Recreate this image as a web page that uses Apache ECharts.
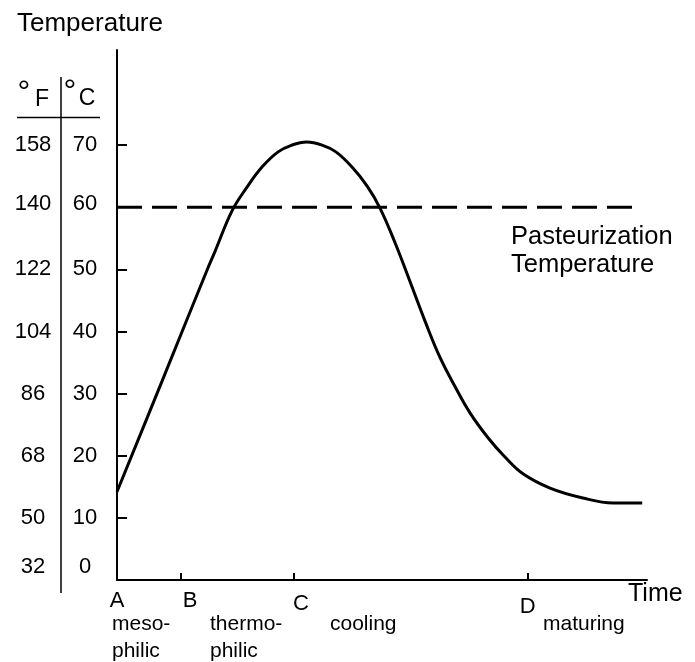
<!DOCTYPE html>
<html>
<head>
    <meta charset="utf-8">
    <script src="https://cdn.jsdelivr.net/npm/echarts@6/dist/echarts.min.js"></script>
</head>
<style type="text/css">
    html, body { margin: 0; padding: 0; background: #fff; }
</style>
<body>
<div style="width: 695px;height: 662px;" id="chart"></div>
<script>

// temperature scale, two columns
let tempC = [0, 10, 20, 30, 40, 50, 60, 70];
let tempF = [32, 50, 68, 86, 104, 122, 140, 158];

// stages on the time axis
let stages = ['A', 'B', 'C', 'D'];
let stageTicks = [12.1, 33.4, 77.5];
let stageLabelPos = [0, 13.8, 34.7, 77.5];

// compost temperature curve (time in arbitrary units, temp in °C)
let time = [0, 8.5, 17.0, 18.5, 21.7, 24.5, 27.4, 30.4, 33.0, 35.8, 38.7, 41.3, 44.3, 47.2,
    49.6, 52.5, 55.3, 58.1, 60.9, 63.8, 66.6, 70.0, 73.2, 76.6, 81.7, 87.9, 93.6, 99.1];
let temp = [14.2, 32.0, 49.9, 52.9, 59.4, 63.2, 66.5, 68.9, 70.0, 70.5, 70.0, 68.9, 66.5, 63.4,
    59.9, 54.2, 48.0, 41.7, 35.9, 31.1, 26.9, 22.9, 19.8, 17.1, 14.8, 13.2, 12.4, 12.4];

// pasteurization level
let pasteurTemp = 60;
let pasteurEnd = 97.2;

let font = '"Liberation Sans", Arial, sans-serif';

let chart = echarts.init(document.getElementById('chart'));

let curve = time.map((t, i) => [t, temp[i]]);

// labels of the 0 and 60 rows sit a bit higher than their ticks
let rowRich = {
    z: {fontSize: 22, fontFamily: font, color: '#000', padding: [0, 0, 26, 0]},
    s: {fontSize: 22, fontFamily: font, color: '#000', padding: [0, 0, 6, 0]}
};
let rowText = (v, txt) => v === 0 ? '{z|' + txt + '}' : v === 60 ? '{s|' + txt + '}' : String(txt);

let txt = (text, x, y, size, align) => ({
    type: 'text',
    x: x,
    y: y,
    silent: true,
    style: {
        text: text,
        fill: '#000',
        font: size + 'px ' + font,
        align: align || 'left',
        textAlign: align || 'left',
        verticalAlign: 'middle',
        textVerticalAlign: 'middle'
    }
});

let option = {
    animation: false,
    backgroundColor: '#fff',
    grid: {left: 117, right: 48, top: 50, bottom: 82},
    xAxis: {
        type: 'value',
        min: 0,
        max: 100,
        splitLine: {show: false},
        axisLine: {lineStyle: {color: '#000', width: 2}},
        axisTick: {
            inside: true,
            length: 7,
            customValues: stageTicks,
            lineStyle: {color: '#000', width: 2}
        },
        axisLabel: {
            customValues: stageLabelPos,
            margin: 10,
            color: '#000',
            fontSize: 22,
            fontFamily: font,
            formatter: v => {
                let s = stages[stageLabelPos.indexOf(v)];
                if (s === 'C') return '{c|C}';
                if (s === 'D') return '{d|D}';
                return s;
            },
            rich: {
                c: {fontSize: 22, fontFamily: font, color: '#000', padding: [3, 0, 0, 0]},
                d: {fontSize: 22, fontFamily: font, color: '#000', padding: [6, 0, 0, 0]}
            }
        }
    },
    yAxis: [
        {
            type: 'value',
            min: 0,
            max: 85.3,
            position: 'left',
            splitLine: {show: false},
            axisLine: {show: true, lineStyle: {color: '#000', width: 2}},
            axisTick: {
                show: true,
                inside: true,
                length: 10,
                customValues: tempC.slice(1),
                lineStyle: {color: '#000', width: 2}
            },
            axisLabel: {
                customValues: tempC,
                margin: 32,
                align: 'center',
                color: '#000',
                fontSize: 22,
                fontFamily: font,
                formatter: v => rowText(v, v),
                rich: rowRich
            }
        },
        {
            type: 'value',
            min: 0,
            max: 85.3,
            position: 'left',
            splitLine: {show: false},
            axisLine: {show: false},
            axisTick: {show: false},
            axisLabel: {
                customValues: tempC,
                margin: 84,
                align: 'center',
                color: '#000',
                fontSize: 22,
                fontFamily: font,
                formatter: v => rowText(v, tempF[tempC.indexOf(v)]),
                rich: rowRich
            }
        }
    ],
    graphic: [
        txt('Temperature', 17, 23.5, 26),
        // °F / °C header
        txt('°', 24, 93, 32, 'center'),
        txt('F', 42, 99.5, 23, 'center'),
        txt('°', 70, 92.5, 32, 'center'),
        txt('C', 87, 99, 23, 'center'),
        {type: 'line', silent: true, shape: {x1: 17, y1: 117.5, x2: 100, y2: 117.5}, style: {stroke: '#000', lineWidth: 1.5}},
        {type: 'line', silent: true, shape: {x1: 61, y1: 77, x2: 61, y2: 593}, style: {stroke: '#000', lineWidth: 1.5}},
        txt('Pasteurization', 511, 237, 25.5),
        txt('Temperature', 511, 265, 25.5),
        txt('Time', 628, 594, 25),
        txt('meso-', 112, 624.5, 21),
        txt('philic', 112, 651.5, 21),
        txt('thermo-', 210, 624.5, 21),
        txt('philic', 210, 651.5, 21),
        txt('cooling', 330, 624.5, 21),
        txt('maturing', 543, 624.5, 21)
    ],
    series: [
        {
            type: 'line',
            data: curve,
            smooth: 0.4,
            symbol: 'none',
            lineStyle: {color: '#000', width: 3}
        },
        {
            type: 'line',
            data: [[0, pasteurTemp], [pasteurEnd, pasteurTemp]],
            symbol: 'none',
            lineStyle: {color: '#000', width: 3, type: [25, 10]}
        }
    ]
};

chart.setOption(option);

</script>
</body>
</html>
